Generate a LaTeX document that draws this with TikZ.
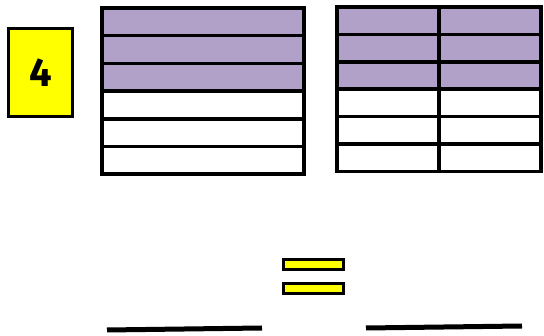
\documentclass[tikz,border=0pt]{standalone}
\usepackage{fontspec}
\setsansfont{Fira Sans}
\usetikzlibrary{positioning}
\definecolor{barpurple}{RGB}{177,160,199}
\definecolor{signyellow}{RGB}{255,255,0}

\begin{document}
\begin{tikzpicture}[x=1pt, y=-1pt,
    cell/.style={draw=black, line width=3.5pt, inner sep=0pt, outer sep=0pt,
                 minimum height=27.7pt, anchor=north west},
    sign/.style={draw=black, fill=signyellow, line width=3pt, inner sep=0pt, outer sep=0pt},
    answer/.style={line width=5pt}]
    \useasboundingbox (0, 0) rectangle (544, 336);
    % number card
    \node[sign, minimum width=64pt, minimum height=88pt, anchor=north west,
          font=\sffamily\bfseries\fontsize{40}{40}\selectfont] (num) at (8.5, 28.5) {4};
    % left bar, sixths
    \foreach \r/\c in {1/barpurple, 2/barpurple, 3/barpurple, 4/white, 5/white, 6/white} {
        \node[cell, fill=\c, minimum width=202pt] (left\r) at (102, {8 + (\r-1)*27.7}) {};
    }
    % right bar, twelfths
    \foreach \r/\c in {1/barpurple, 2/barpurple, 3/barpurple, 4/white, 5/white, 6/white} {
        \node[cell, fill=\c, minimum height=27.4pt, minimum width=102pt] (rightA\r) at (337, {7 + (\r-1)*27.4}) {};
        \node[cell, fill=\c, minimum height=27.4pt, minimum width=102pt] (rightB\r) at (439, {7 + (\r-1)*27.4}) {};
    }
    % equals sign
    \node[sign, minimum width=60pt, minimum height=10pt, anchor=north west] (eqtop) at (283.5, 259.5) {};
    \node[sign, minimum width=60pt, minimum height=10pt, below=14pt of eqtop.south west, anchor=north west] (eqbot) {};
    % blanks to write on
    \coordinate (blankL1) at (107, 330);
    \coordinate (blankL2) at (262, 328);
    \coordinate (blankR1) at (366, 328);
    \coordinate (blankR2) at (522, 326);
    \draw[answer] (blankL1) -- (blankL2);
    \draw[answer] (blankR1) -- (blankR2);
\end{tikzpicture}
\end{document}
